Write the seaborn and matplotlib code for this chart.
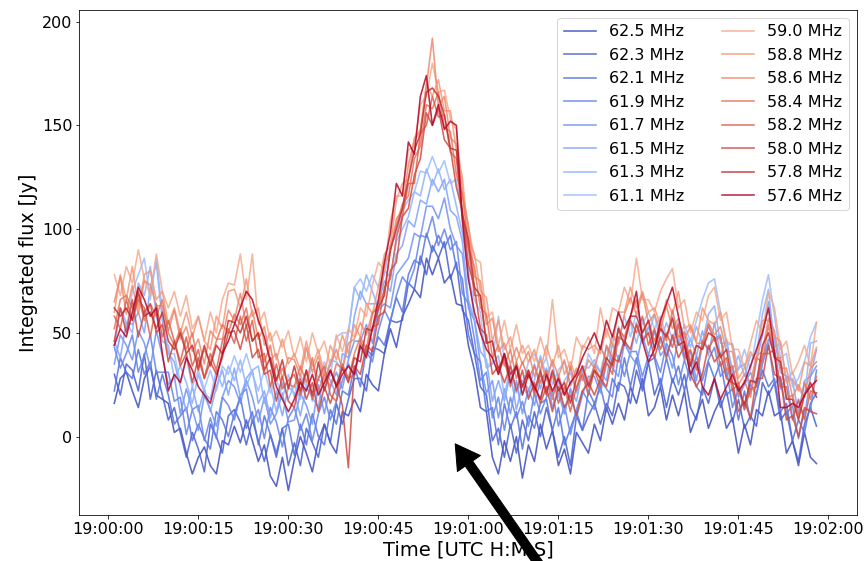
import numpy as np
import pandas as pd
import matplotlib
matplotlib.use("Agg")
import matplotlib.pyplot as plt
import seaborn as sns

# ---------------- data ----------------
channels = ["62.5 MHz", "62.3 MHz", "62.1 MHz", "61.9 MHz", "61.7 MHz", "61.5 MHz",
            "61.3 MHz", "61.1 MHz", "59.0 MHz", "58.8 MHz", "58.6 MHz", "58.4 MHz",
            "58.2 MHz", "58.0 MHz", "57.8 MHz", "57.6 MHz"]
# position of each channel among the 25 sub-bands 62.5 ... 57.6 MHz (colour position)
channel_index = [0, 1, 2, 3, 4, 5, 6, 7, 17, 18, 19, 20, 21, 22, 23, 24]

f_62_5 = [16, 28, 31, 22, 14, 28, 34, 20, 18, 16,
          2, 4, -8, -18, -10, -5, -14, -18, -2, -4,
          5, -3, 8, -2, -12, -4, -19, -24, -10, -26,
          -11, 0, -8, -17, -2, 6, -3, -8, 12, 10,
          18, 12, 30, 25, 22, 40, 52, 43, 58, 64,
          71, 67, 86, 78, 86, 74, 78, 64, 63, 44,
          32, 14, 12, -10, -18, -2, -12, 0, -20, -4,
          -12, 6, -6, 3, -14, -6, -18, 2, -3, -8,
          6, -2, 14, 6, 16, 8, 24, 16, 28, 10,
          14, 24, 8, 20, 10, 22, 2, 10, 18, 4,
          12, 18, 4, 9, -8, 6, -4, 13, 10, 22,
          10, 12, -8, -2, -14, 2, -10, -13]
f_62_3 = [30, 20, 35, 32, 22, 40, 18, 32, 20, 8,
          14, 2, -10, 2, -6, -17, 6, 0, -8, 10,
          13, 7, -4, 8, -2, -12, 1, -10, 4, -14,
          -3, -14, 4, -3, -10, 6, -3, 16, 6, 18,
          28, 28, 22, 43, 42, 40, 56, 55, 56, 74,
          71, 87, 78, 92, 86, 94, 76, 84, 61, 56,
          40, 24, 20, -2, 4, -10, 6, -8, 8, -2,
          12, 0, 14, 3, -10, 0, -14, 10, 3, 10,
          16, 6, 16, 10, 26, 24, 16, 32, 22, 36,
          20, 28, 14, 28, 20, 30, 14, 8, 24, 16,
          28, 14, 22, 7, 18, 4, 10, 5, 26, 20,
          26, 8, 12, -2, -12, 6, 14, 5]
f_62_1 = [22, 38, 31, 28, 42, 30, 36, 18, 30, 20,
          6, 10, 14, -2, 6, -1, -6, 12, 8, 0,
          11, 19, 4, 12, -4, 10, 1, -8, 4, 6,
          -9, 6, -4, 11, 0, -4, 13, 6, 22, 20,
          34, 24, 42, 39, 48, 44, 56, 67, 60, 78,
          85, 83, 98, 89, 97, 91, 97, 81, 76, 49,
          40, 36, 12, 14, -4, 16, 4, 12, -6, 10,
          4, 16, 18, 3, 14, -4, 4, 12, 3, 22,
          16, 24, 12, 28, 22, 38, 24, 38, 24, 36,
          38, 24, 38, 26, 34, 22, 36, 24, 20, 36,
          28, 36, 20, 23, 8, 22, 8, 21, 32, 24,
          28, 12, 16, -2, 8, 2, 16, 21]
f_61_9 = [43, 33, 40, 49, 31, 39, 49, 31, 31, 31,
          17, 19, 1, 13, 15, -2, 9, -1, 19, 15,
          8, 20, 23, 7, 13, -1, 14, 7, -5, 9,
          14, 3, 11, -2, 11, 19, 8, 17, 27, 35,
          29, 43, 41, 36, 51, 61, 55, 68, 77, 73,
          81, 97, 96, 106, 92, 100, 90, 94, 69, 64,
          47, 27, 31, 9, 19, 3, 19, 9, 17, 5,
          21, 11, 19, 22, 5, 15, 1, 13, 22, 17,
          13, 27, 23, 19, 39, 29, 41, 41, 29, 39,
          39, 31, 45, 39, 25, 37, 27, 39, 27, 37,
          43, 29, 33, 14, 23, 13, 25, 20, 35, 45,
          25, 29, 11, 15, -1, 13, 13, 32]
f_61_7 = [35, 49, 44, 37, 51, 45, 33, 51, 39, 25,
          29, 11, 23, 13, 3, 20, 13, 5, 19, 27,
          24, 16, 27, 19, 7, 19, 6, 11, 21, 7,
          8, 21, 15, 6, 25, 11, 24, 31, 23, 37,
          46, 46, 54, 45, 61, 64, 62, 78, 82, 86,
          98, 96, 111, 111, 105, 115, 100, 92, 88, 62,
          56, 35, 21, 27, 9, 23, 11, 27, 11, 23,
          15, 27, 31, 14, 21, 11, 23, 9, 20, 29,
          29, 21, 35, 33, 29, 45, 39, 35, 49, 39,
          51, 39, 43, 33, 47, 37, 41, 27, 45, 53,
          47, 49, 29, 34, 19, 25, 31, 24, 37, 47,
          41, 23, 29, 9, 17, 9, 29, 34]
f_61_5 = [46, 38, 55, 54, 60, 50, 72, 84, 56, 40,
          36, 24, 12, 24, 12, 23, 12, 24, 32, 20,
          33, 19, 28, 32, 16, 22, 9, 22, 10, 24,
          21, 10, 24, 19, 14, 32, 27, 20, 40, 38,
          58, 70, 64, 64, 64, 75, 70, 88, 92, 104,
          101, 114, 112, 124, 118, 124, 109, 106, 94, 66,
          56, 41, 37, 17, 27, 17, 31, 13, 25, 19,
          35, 23, 33, 20, 27, 11, 23, 17, 32, 21,
          35, 31, 27, 45, 37, 47, 39, 55, 45, 53,
          43, 55, 39, 47, 55, 39, 47, 39, 51, 39,
          55, 39, 47, 30, 33, 35, 21, 36, 49, 65,
          47, 31, 29, 27, 11, 27, 29, 42]
f_61_3 = [44, 62, 55, 50, 74, 68, 82, 58, 46, 44,
          28, 34, 26, 16, 30, 21, 18, 32, 24, 34,
          27, 37, 24, 32, 34, 16, 25, 12, 26, 18,
          25, 18, 32, 17, 28, 24, 37, 36, 32, 50,
          72, 66, 78, 70, 62, 80, 77, 94, 100, 106,
          118, 116, 129, 121, 129, 119, 124, 111, 98, 80,
          56, 53, 33, 35, 39, 19, 35, 21, 27, 23,
          27, 39, 29, 36, 19, 27, 31, 21, 34, 33,
          37, 31, 43, 35, 53, 47, 55, 45, 57, 49,
          59, 45, 55, 47, 45, 51, 43, 53, 45, 59,
          63, 45, 45, 32, 39, 29, 39, 40, 59, 71,
          43, 45, 27, 31, 23, 19, 45, 46]
f_61_1 = [44, 62, 51, 70, 78, 86, 66, 86, 60, 40,
          40, 26, 38, 24, 32, 23, 32, 22, 34, 30,
          39, 31, 40, 30, 22, 32, 21, 28, 18, 30,
          19, 30, 24, 35, 28, 36, 29, 48, 50, 50,
          72, 76, 70, 78, 72, 78, 92, 97, 109, 114,
          118, 128, 127, 135, 127, 133, 122, 124, 106, 76,
          66, 60, 34, 36, 58, 36, 26, 34, 24, 36,
          40, 32, 38, 25, 32, 36, 24, 32, 27, 40,
          34, 44, 36, 48, 44, 58, 48, 60, 54, 60,
          52, 58, 48, 58, 46, 54, 46, 56, 66, 74,
          76, 60, 44, 45, 32, 42, 32, 49, 66, 78,
          58, 38, 40, 24, 28, 36, 48, 55]
f_59_0 = [78, 68, 82, 74, 90, 76, 68, 88, 70, 62,
          70, 58, 68, 52, 58, 46, 60, 50, 66, 74,
          73, 88, 66, 88, 54, 60, 46, 51, 43, 51,
          38, 48, 36, 50, 40, 46, 34, 49, 41, 52,
          48, 62, 58, 73, 84, 80, 104, 116, 116, 138,
          140, 160, 164, 180, 166, 167, 153, 148, 119, 101,
          86, 84, 57, 60, 44, 56, 42, 54, 40, 44,
          36, 48, 38, 66, 38, 42, 32, 48, 42, 48,
          40, 62, 48, 62, 60, 72, 64, 86, 66, 66,
          60, 70, 76, 81, 62, 66, 50, 60, 56, 68,
          72, 56, 60, 42, 42, 33, 45, 56, 50, 70,
          62, 42, 46, 30, 36, 44, 34, 55]
f_58_8 = [60, 78, 66, 82, 62, 78, 80, 66, 70, 54,
          62, 50, 60, 48, 58, 46, 42, 58, 52, 70,
          71, 62, 76, 58, 62, 44, 50, 37, 47, 35,
          40, 32, 46, 34, 42, 30, 44, 37, 49, 40,
          54, 48, 64, 59, 72, 88, 92, 114, 122, 124,
          144, 148, 170, 164, 172, 157, 157, 138, 125, 95,
          88, 70, 67, 46, 56, 42, 48, 36, 44, 36,
          42, 32, 44, 34, 44, 30, 36, 28, 44, 42,
          44, 40, 52, 44, 60, 60, 72, 62, 70, 60,
          62, 54, 66, 59, 70, 52, 54, 46, 62, 56,
          54, 60, 46, 44, 28, 33, 41, 36, 56, 56,
          48, 46, 26, 28, 22, 36, 34, 43]
f_58_6 = [65, 77, 59, 73, 59, 75, 73, 63, 63, 51,
          61, 47, 53, 41, 47, 35, 51, 47, 47, 61,
          56, 69, 53, 61, 47, 53, 37, 40, 28, 38,
          37, 29, 43, 31, 39, 27, 35, 42, 32, 45,
          47, 55, 49, 60, 61, 83, 89, 105, 109, 131,
          143, 147, 169, 192, 159, 164, 144, 141, 116, 102,
          77, 75, 54, 57, 41, 45, 35, 43, 35, 41,
          29, 37, 27, 37, 29, 37, 25, 33, 27, 37,
          33, 43, 37, 49, 45, 59, 67, 59, 69, 55,
          59, 51, 63, 52, 57, 47, 53, 45, 45, 55,
          49, 53, 41, 41, 25, 30, 26, 39, 41, 57,
          51, 33, 33, 19, 25, 19, 33, 36]
f_58_4 = [52, 66, 68, 62, 68, 56, 64, 58, 66, 50,
          44, 52, 42, 50, 34, 42, 36, 46, 54, 50,
          59, 54, 62, 46, 50, 36, 44, 27, 33, 25,
          24, 34, 26, 38, 22, 30, 24, 35, 33, 28,
          40, 48, 42, 59, 64, 70, 90, 102, 112, 116,
          134, 140, 160, 158, 166, 149, 147, 126, 117, 91,
          82, 62, 59, 38, 44, 34, 42, 28, 36, 28,
          34, 26, 32, 18, 30, 20, 34, 22, 34, 26,
          34, 28, 44, 38, 52, 48, 58, 66, 50, 56,
          46, 54, 46, 61, 48, 50, 36, 44, 42, 54,
          46, 48, 32, 34, 20, 27, 19, 38, 36, 54,
          38, 38, 18, 20, 10, 26, 18, 29]
f_58_2 = [58, 52, 66, 56, 66, 62, 48, 64, 48, 56,
          46, 36, 48, 34, 42, 28, 40, 32, 46, 52,
          45, 58, 46, 56, 38, 40, 24, 35, 23, 27,
          30, 20, 32, 18, 28, 34, 20, 17, 35, 28,
          30, 46, 40, 53, 54, 72, 76, 96, 106, 122,
          122, 146, 150, 164, 154, 155, 137, 134, 105, 91,
          68, 68, 45, 46, 30, 38, 24, 36, 24, 32,
          20, 30, 22, 30, 16, 24, 12, 24, 30, 20,
          32, 24, 36, 30, 48, 46, 56, 50, 58, 44,
          52, 42, 50, 43, 54, 38, 42, 32, 46, 42,
          48, 34, 38, 22, 26, 13, 23, 24, 40, 40,
          42, 24, 24, 8, 18, 8, 22, 21]
f_58_0 = [46, 62, 50, 66, 48, 60, 64, 50, 54, 36,
          46, 34, 40, 26, 38, 28, 36, 30, 38, 50,
          51, 42, 54, 38, 42, 30, 32, 17, 29, 17,
          14, 28, 18, 26, 12, 24, 16, 25, 15, -15,
          34, 30, 44, 41, 58, 60, 80, 84, 106, 110,
          126, 134, 156, 150, 158, 143, 139, 120, 109, 83,
          72, 52, 49, 30, 34, 26, 34, 22, 32, 18,
          26, 16, 24, 12, 24, 14, 20, 10, 22, 26,
          20, 28, 24, 38, 36, 46, 42, 54, 46, 50,
          38, 48, 38, 49, 38, 44, 30, 24, 30, 44,
          36, 40, 28, 26, 12, 17, 9, 28, 28, 44,
          30, 28, 8, 10, 0, 14, 12, 11]
f_57_8 = [62, 58, 62, 56, 70, 58, 60, 52, 60, 46,
          42, 50, 40, 44, 32, 44, 34, 44, 40, 56,
          55, 50, 58, 46, 50, 32, 38, 27, 37, 23,
          34, 22, 32, 20, 36, 22, 32, 25, 33, 26,
          38, 36, 52, 51, 62, 68, 90, 100, 110, 124,
          138, 146, 166, 168, 164, 155, 139, 138, 107, 95,
          72, 68, 45, 46, 32, 40, 30, 34, 24, 32,
          22, 32, 20, 32, 22, 26, 16, 28, 34, 24,
          32, 28, 38, 34, 52, 44, 58, 58, 50, 56,
          42, 52, 48, 57, 44, 46, 34, 44, 42, 50,
          48, 38, 42, 26, 24, 15, 27, 26, 44, 50,
          38, 36, 18, 18, 8, 20, 26, 19]
f_57_6 = [44, 52, 48, 60, 72, 66, 58, 62, 40, 22,
          30, 26, 38, 32, 24, 20, 16, 28, 40, 46,
          54, 62, 70, 66, 56, 48, 36, 24, 18, 12,
          18, 26, 22, 30, 20, 26, 32, 24, 30, 34,
          30, 44, 38, 52, 66, 84, 98, 122, 116, 142,
          136, 164, 174, 150, 160, 148, 152, 150, 104, 76,
          60, 50, 42, 38, 30, 40, 26, 34, 20, 30,
          24, 18, 30, 22, 28, 20, 26, 30, 38, 44,
          50, 42, 56, 48, 60, 52, 58, 70, 46, 36,
          42, 56, 64, 72, 58, 44, 30, 36, 24, 20,
          28, 18, 24, 30, 22, 26, 34, 42, 50, 62,
          40, 14, 14, 16, 14, 20, 24, 27]

series = [f_62_5, f_62_3, f_62_1, f_61_9, f_61_7, f_61_5, f_61_3, f_61_1,
          f_59_0, f_58_8, f_58_6, f_58_4, f_58_2, f_58_0, f_57_8, f_57_6]

tick_seconds = [0, 15, 30, 45, 60, 75, 90, 105, 120]
tick_labels = ["19:00:00", "19:00:15", "19:00:30", "19:00:45", "19:01:00",
               "19:01:15", "19:01:30", "19:01:45", "19:02:00"]

# ---------------- build long table ----------------
rows = []
for name, vals in zip(channels, series):
    t = np.arange(1, len(vals) + 1)  # one sample per second after 19:00:00
    rows.append(pd.DataFrame({"t": t, "flux": vals, "channel": name}))
df = pd.concat(rows, ignore_index=True)

cmap = plt.get_cmap("coolwarm")
palette = {name: cmap(i / 24) for name, i in zip(channels, channel_index)}

# ---------------- plot ----------------
DPI = 72
fig = plt.figure(figsize=(867 / DPI, 561 / DPI), dpi=DPI)
ax = fig.add_axes([0.0915, 0.082, 0.8966, 0.9002])

sns.lineplot(data=df, x="t", y="flux", hue="channel", hue_order=channels,
             palette=palette, estimator=None, linewidth=1.6, alpha=0.85,
             ax=ax, legend=True)

ax.set_xlim(-4.83, 124.7)
ax.set_ylim(-37.8, 205.6)
ax.set_xticks(tick_seconds)
ax.set_xticklabels(tick_labels)
ax.set_yticks([0, 50, 100, 150, 200])
ax.tick_params(labelsize=16)
ax.set_xlabel("Time [UTC H:M:S]", fontsize=19.5)
ax.set_ylabel("Integrated flux [Jy]", fontsize=19)

handles, labels = ax.get_legend_handles_labels()
ax.legend(handles, labels, ncol=2, loc="upper right", fontsize=16,
          labelspacing=0.53, columnspacing=2.4)

ax.annotate("", xy=(57.8, -3.5), xycoords="data",
            xytext=(541, -6), textcoords="figure pixels",
            arrowprops=dict(facecolor="black", edgecolor="black",
                            width=9, headwidth=28, headlength=24),
            annotation_clip=False)

fig.savefig("out.png", dpi=DPI)
